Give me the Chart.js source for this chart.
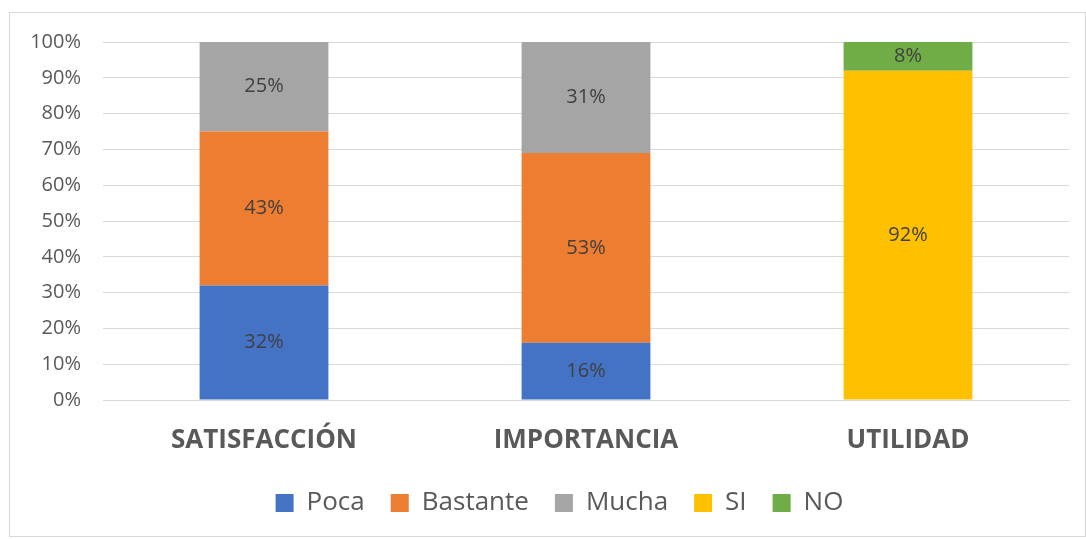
<!DOCTYPE html>
<html>
<head>
<meta charset="utf-8">
<script src="https://cdn.jsdelivr.net/npm/chart.js@4"></script>
<style>
  html, body { margin: 0; padding: 0; background: #fff; }
  #wrap { width: 1086px; height: 539px; }
</style>
</head>
<body>
<div id="wrap"><canvas id="chart"></canvas></div>
<script>
// categories and series (percent)
const categories = ['SATISFACCIÓN', 'IMPORTANCIA', 'UTILIDAD'];
const poca = [32, 16, 0];
const bastante = [43, 53, 0];
const mucha = [25, 31, 0];
const si = [0, 0, 92];
const no = [0, 0, 8];
const yTicks = [0, 10, 20, 30, 40, 50, 60, 70, 80, 90, 100];

const FONT = '"Open Sans", Lato, sans-serif';

// draw the value inside each bar segment
const segmentLabels = {
    id: 'segmentLabels',
    afterDatasetsDraw(chart) {
        const ctx = chart.ctx;
        ctx.save();
        ctx.font = '20px ' + FONT;
        ctx.fillStyle = '#404040';
        ctx.textAlign = 'center';
        ctx.textBaseline = 'middle';
        chart.data.datasets.forEach((ds, i) => {
            const meta = chart.getDatasetMeta(i);
            meta.data.forEach((bar, j) => {
                const v = ds.data[j];
                if (!v) return;
                const mid = (bar.y + bar.base) / 2;
                ctx.fillText(v + '%', bar.x, mid);
            });
        });
        ctx.restore();
    }
};

// thin frame round the whole chart
const frame = {
    id: 'frame',
    beforeDraw(chart) {
        const ctx = chart.ctx;
        ctx.save();
        ctx.strokeStyle = '#d9d9d9';
        ctx.lineWidth = 1;
        ctx.strokeRect(9.5, 12.5, 1076, 524);
        ctx.restore();
    }
};

// legend sits a bit right of the canvas centre
const legendShift = {
    id: 'legendShift',
    afterLayout(chart) {
        chart.legend.left += 25;
        chart.legend.right += 25;
    }
};

const makeSet = (label, data, color) => ({
    label: label,
    data: data,
    backgroundColor: color,
    borderWidth: 0,
    barPercentage: 0.4,
    categoryPercentage: 1
});

new Chart(document.getElementById('chart'), {
    type: 'bar',
    data: {
        labels: categories,
        datasets: [
            makeSet('Poca', poca, '#4472C4'),
            makeSet('Bastante', bastante, '#ED7D31'),
            makeSet('Mucha', mucha, '#A5A5A5'),
            makeSet('SI', si, '#FFC000'),
            makeSet('NO', no, '#70AD47')
        ]
    },
    options: {
        responsive: true,
        maintainAspectRatio: false,
        animation: false,
        layout: { padding: { top: 42, right: 17, bottom: 13, left: 0 } },
        plugins: {
            tooltip: { enabled: false },
            legend: {
                position: 'bottom',
                labels: {
                    font: { family: FONT, size: 26 },
                    color: '#595959',
                    boxWidth: 18,
                    boxHeight: 18,
                    padding: 26
                }
            }
        },
        scales: {
            x: {
                stacked: true,
                grid: { display: false, drawTicks: false },
                border: { display: true, color: '#d9d9d9', width: 1 },
                ticks: {
                    font: { family: FONT, size: 26, weight: 'bold' },
                    color: '#595959',
                    padding: 25
                },
                afterFit(axis) { axis.height = 64; }
            },
            y: {
                stacked: true,
                min: 0,
                max: 100,
                afterBuildTicks(axis) { axis.ticks = yTicks.map(v => ({ value: v })); },
                grid: { color: '#d9d9d9', lineWidth: 1, drawTicks: false },
                border: { display: false },
                ticks: {
                    font: { family: FONT, size: 20 },
                    color: '#595959',
                    padding: 22,
                    callback: v => v + '%'
                },
                afterFit(axis) { axis.width = 103; }
            }
        }
    },
    plugins: [frame, legendShift, segmentLabels]
});
</script>
</body>
</html>
